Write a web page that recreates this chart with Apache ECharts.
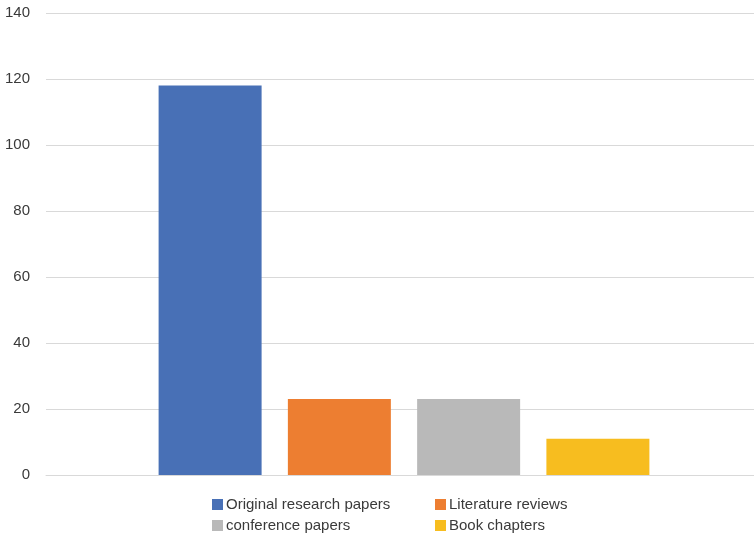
<!DOCTYPE html>
<html>
<head>
<meta charset="utf-8">
<script src="https://cdn.jsdelivr.net/npm/echarts@6/dist/echarts.min.js"></script>
<style>
  html, body { margin: 0; padding: 0; background: #fff; }
  #chart { width: 754px; height: 538px; }
</style>
</head>
<body>
<div id="chart"></div>
<script>
// Publication types and counts
const categories = [''];
const seriesNames = ['Original research papers', 'Literature reviews', 'conference papers', 'Book chapters'];
const seriesValues = [[118], [23], [23], [11]];
const yTicks = { min: 0, max: 140, interval: 20 };
const colors = ['#4870B6', '#ED7E31', '#B9B9B9', '#F7BD1F'];

const chart = echarts.init(document.getElementById('chart'));

const labelFont = { fontFamily: 'Liberation Sans', fontSize: 15, color: '#3a3a3a' };

// one legend entry per item, laid out as a 2x2 block
const legendPos = [
  { left: 212, top: 497 },
  { left: 435, top: 497 },
  { left: 212, top: 518 },
  { left: 435, top: 518 }
];

const valueAxisBase = {
  type: 'value',
  min: yTicks.min,
  max: yTicks.max,
  interval: yTicks.interval,
  axisLine: { show: false },
  axisTick: { show: false }
};

const option = {
  animation: false,
  color: colors,
  // grid 0 carries the value axis and gridlines; grid 1 holds the bar group
  grid: [
    { left: 46, right: 0, top: 13, bottom: 63 },
    { left: 54, right: 0, top: 13, bottom: 63 }
  ],
  legend: seriesNames.map((name, i) => ({
    data: [name],
    left: legendPos[i].left,
    top: legendPos[i].top,
    icon: 'rect',
    itemWidth: 11,
    itemHeight: 11,
    itemGap: 0,
    padding: 0,
    selectedMode: false,
    textStyle: Object.assign({ padding: [0, 0, 0, -2] }, labelFont)
  })),
  xAxis: [
    {
      gridIndex: 0,
      type: 'category',
      data: categories,
      axisLine: { show: true, lineStyle: { color: '#D9D9D9' } },
      axisTick: { show: false },
      axisLabel: { show: false }
    },
    {
      gridIndex: 1,
      type: 'category',
      data: categories,
      show: false
    }
  ],
  yAxis: [
    Object.assign({}, valueAxisBase, {
      gridIndex: 0,
      axisLabel: Object.assign({ margin: 16 }, labelFont),
      splitLine: { lineStyle: { color: '#D9D9D9', width: 1 } }
    }),
    Object.assign({}, valueAxisBase, {
      gridIndex: 1,
      show: false
    })
  ],
  series: seriesNames.map((name, i) => ({
    name: name,
    type: 'bar',
    xAxisIndex: 1,
    yAxisIndex: 1,
    data: seriesValues[i],
    barWidth: 103,
    barGap: '25.5%'
  }))
};

chart.setOption(option);
</script>
</body>
</html>
